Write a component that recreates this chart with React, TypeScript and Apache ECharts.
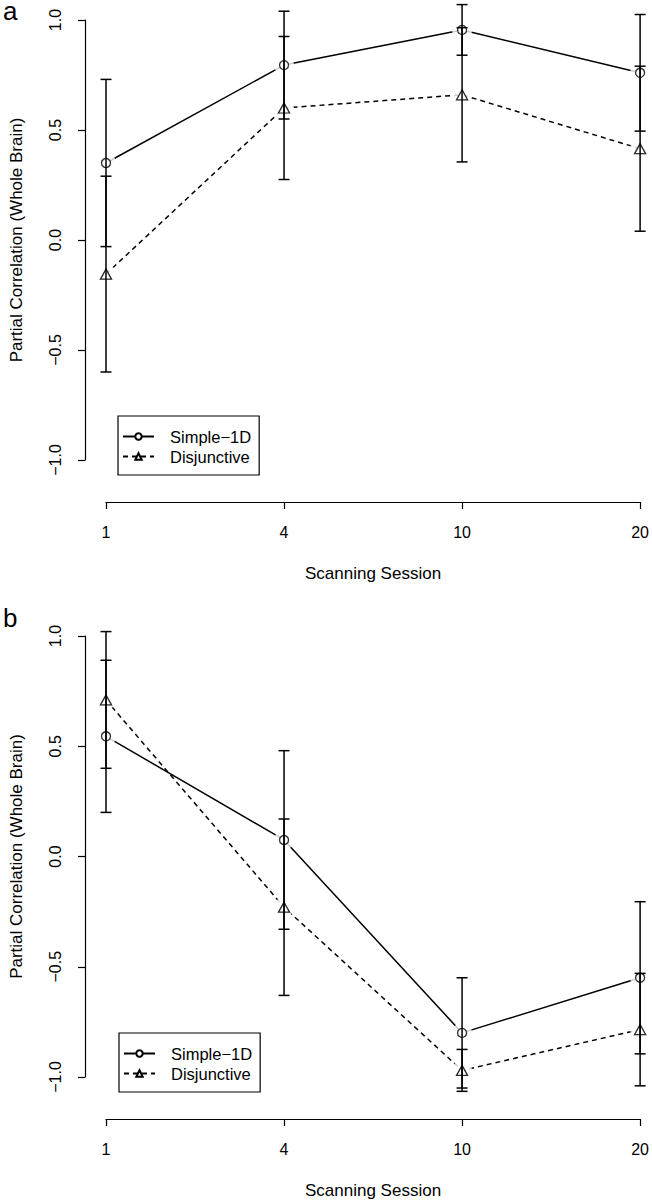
import React, { useEffect, useRef } from 'react';
import * as echarts from 'echarts';

// ---- data ----
const sessions = ['1', '4', '10', '20'];
const seriesNames = ['Simple\u22121D', 'Disjunctive'];
const panelLabels = ['a', 'b'];

// Panel a
const simpleA = [0.35, 0.795, 0.955, 0.76];
const simpleAErr = [0.38, 0.245, 0.115, 0.265];
const disjA = [-0.155, 0.6, 0.66, 0.415];
const disjAErr = [0.445, 0.325, 0.305, 0.375];

// Panel b
const simpleB = [0.545, 0.075, -0.8, -0.55];
const simpleBErr = [0.345, 0.405, 0.25, 0.345];
const disjB = [0.71, -0.23, -0.97, -0.785];
const disjBErr = [0.31, 0.4, 0.095, 0.255];

const FONT = '"Liberation Sans", Arial, Helvetica, sans-serif';

function fmt(v: number) {
  const s = Math.abs(v).toFixed(1);
  return v < 0 ? '\u2212' + s : s;
}

const LW = 1.5;
const markerStyle = { color: '#fff', borderColor: '#000', borderWidth: 1.3 };

function panelSeries(g: number, simple: number[], simpleErr: number[], disj: number[], disjErr: number[]) {
  const errData = (vals: number[], errs: number[]) => vals.map((v, i) => [i, v - errs[i], v + errs[i]]);
  const renderErr = (params: any, api: any) => {
    const lo = api.coord([api.value(0), api.value(1)]);
    const hi = api.coord([api.value(0), api.value(2)]);
    const w = 5.5;
    const st = { stroke: '#000', lineWidth: LW };
    return {
      type: 'group',
      children: [
        { type: 'line', shape: { x1: lo[0], y1: lo[1], x2: hi[0], y2: hi[1] }, style: st },
        { type: 'line', shape: { x1: lo[0] - w, y1: lo[1], x2: lo[0] + w, y2: lo[1] }, style: st },
        { type: 'line', shape: { x1: hi[0] - w, y1: hi[1], x2: hi[0] + w, y2: hi[1] }, style: st },
      ],
    };
  };
  const pts = (vals: number[]) => vals.map((v, i) => [i, v]);
  return [
    {
      type: 'line', name: seriesNames[0], xAxisIndex: g, yAxisIndex: g, data: simple,
      symbol: 'circle', symbolSize: 9, itemStyle: markerStyle,
      lineStyle: { color: '#000', width: LW, type: 'solid' }, z: 2, clip: false, silent: true,
    },
    {
      type: 'line', name: seriesNames[1], xAxisIndex: g, yAxisIndex: g, data: disj,
      symbol: 'triangle', symbolSize: [11, 10], itemStyle: markerStyle,
      lineStyle: { color: '#000', width: LW, type: [5, 4] }, z: 2, clip: false, silent: true,
    },
    {
      type: 'scatter', xAxisIndex: g, yAxisIndex: g, data: [...pts(simple), ...pts(disj)],
      symbol: 'circle', symbolSize: 20, itemStyle: { color: '#fff' }, z: 3, silent: true, clip: false,
    },
    {
      type: 'scatter', xAxisIndex: g, yAxisIndex: g, data: pts(simple),
      symbol: 'circle', symbolSize: 9, itemStyle: markerStyle, z: 4, silent: true, clip: false,
    },
    {
      type: 'scatter', xAxisIndex: g, yAxisIndex: g, data: pts(disj),
      symbol: 'triangle', symbolSize: [11, 10], itemStyle: markerStyle, z: 4, silent: true, clip: false,
    },
    {
      type: 'custom', xAxisIndex: g, yAxisIndex: g, data: errData(simple, simpleErr),
      encode: { x: 0, y: [1, 2] }, renderItem: renderErr, z: 5, silent: true,
    },
    {
      type: 'custom', xAxisIndex: g, yAxisIndex: g, data: errData(disj, disjErr),
      encode: { x: 0, y: [1, 2] }, renderItem: renderErr, z: 5, silent: true,
    },
  ];
}

function xAxisFor(g: number) {
  return {
    type: 'category', gridIndex: g, data: sessions, boundaryGap: false, offset: 42,
    axisLine: { show: true, onZero: false, lineStyle: { color: '#000', width: 1.2 } },
    axisTick: { show: true, length: 7, alignWithLabel: true, lineStyle: { color: '#000', width: 1.2 } },
    axisLabel: { color: '#000', fontSize: 16, margin: 22, interval: 0, fontFamily: FONT },
    splitLine: { show: false },
    name: 'Scanning Session', nameLocation: 'middle', nameGap: 63,
    nameTextStyle: { color: '#000', fontSize: 17, fontFamily: FONT },
  };
}

function yAxisFor(g: number) {
  return {
    type: 'value', gridIndex: g, min: -1, max: 1, interval: 0.5, offset: 21,
    axisLine: { show: true, onZero: false, lineStyle: { color: '#000', width: 1.2 } },
    axisTick: { show: true, length: 7, lineStyle: { color: '#000', width: 1.2 } },
    axisLabel: { color: '#000', fontSize: 16, rotate: 90, margin: 22, formatter: fmt, fontFamily: FONT },
    splitLine: { show: false },
    name: 'Partial Correlation (Whole Brain)', nameLocation: 'middle', nameGap: 60,
    nameTextStyle: { color: '#000', fontSize: 17, fontFamily: FONT },
  };
}

function legendFor(left: number, top: number) {
  return {
    orient: 'vertical', left, top, data: seriesNames, selectedMode: false,
    itemWidth: 31, itemHeight: 8, itemGap: 3,
    padding: [12, 8, 10, 4], borderColor: '#000', borderWidth: 1.2, borderRadius: 0,
    backgroundColor: '#fff',
    textStyle: { color: '#000', fontSize: 16.5, fontFamily: FONT, padding: [0, 0, 0, 11] },
  };
}

export default function App() {
  const ref = useRef<HTMLDivElement>(null);
  useEffect(() => {
    document.body.style.margin = '0';
    if (!ref.current) return;
    const chart = echarts.init(ref.current, undefined, { renderer: 'svg' });
    chart.setOption({
      animation: false,
      backgroundColor: '#fff',
      textStyle: { fontFamily: FONT },
      title: [
        { text: panelLabels[0], left: 3, top: -2, padding: 0, textStyle: { fontSize: 26, fontWeight: 'normal', color: '#000', fontFamily: FONT } },
        { text: panelLabels[1], left: 3, top: 605, padding: 0, textStyle: { fontSize: 26, fontWeight: 'normal', color: '#000', fontFamily: FONT } },
      ],
      grid: [
        { left: 99, right: 10, top: 20, height: 440 },
        { left: 101, right: 10, top: 636, height: 441 },
      ],
      xAxis: [xAxisFor(0), xAxisFor(1)],
      yAxis: [yAxisFor(0), yAxisFor(1)],
      legend: [legendFor(118, 416), legendFor(119, 1033)],
      series: [
        ...panelSeries(0, simpleA, simpleAErr, disjA, disjAErr),
        ...panelSeries(1, simpleB, simpleBErr, disjB, disjBErr),
      ],
    });
    return () => chart.dispose();
  }, []);
  return <div ref={ref} style={{ width: 652, height: 1200 }} />;
}
